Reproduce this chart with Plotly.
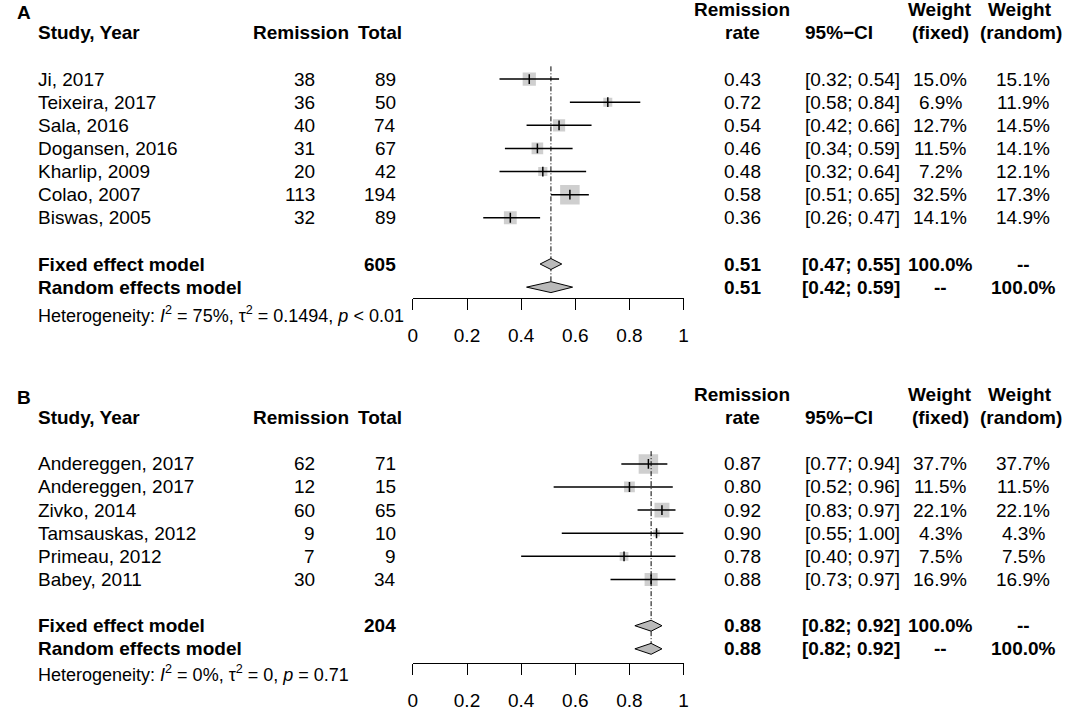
import math
import plotly.graph_objects as go

# ---- dados do painel A ----
estudos_a = ["Ji, 2017", "Teixeira, 2017", "Sala, 2016", "Dogansen, 2016",
             "Kharlip, 2009", "Colao, 2007", "Biswas, 2005"]
remissao_a = [38, 36, 40, 31, 20, 113, 32]
total_a = [89, 50, 74, 67, 42, 194, 89]
taxa_a = [0.43, 0.72, 0.54, 0.46, 0.48, 0.58, 0.36]
ic_inf_a = [0.32, 0.58, 0.42, 0.34, 0.32, 0.51, 0.26]
ic_sup_a = [0.54, 0.84, 0.66, 0.59, 0.64, 0.65, 0.47]
peso_fixo_a = [15.0, 6.9, 12.7, 11.5, 7.2, 32.5, 14.1]
peso_aleat_a = [15.1, 11.9, 14.5, 14.1, 12.1, 17.3, 14.9]
n_total_a = 605
fixo_a = [0.51, 0.47, 0.55]      # estimativa, inf, sup
aleat_a = [0.51, 0.42, 0.59]
het_a = "Heterogeneity: <i>I</i><sup>2</sup> = 75%, τ<sup>2</sup> = 0.1494, <i>p</i> &lt; 0.01"

# ---- dados do painel B ----
estudos_b = ["Andereggen, 2017", "Andereggen, 2017", "Zivko, 2014",
             "Tamsauskas, 2012", "Primeau, 2012", "Babey, 2011"]
remissao_b = [62, 12, 60, 9, 7, 30]
total_b = [71, 15, 65, 10, 9, 34]
taxa_b = [0.87, 0.80, 0.92, 0.90, 0.78, 0.88]
ic_inf_b = [0.77, 0.52, 0.83, 0.55, 0.40, 0.73]
ic_sup_b = [0.94, 0.96, 0.97, 1.00, 0.97, 0.97]
peso_fixo_b = [37.7, 11.5, 22.1, 4.3, 7.5, 16.9]
peso_aleat_b = [37.7, 11.5, 22.1, 4.3, 7.5, 16.9]
n_total_b = 204
fixo_b = [0.88, 0.82, 0.92]
aleat_b = [0.88, 0.82, 0.92]
het_b = "Heterogeneity: <i>I</i><sup>2</sup> = 0%, τ<sup>2</sup> = 0, <i>p</i> = 0.71"

ticks = [0, 0.2, 0.4, 0.6, 0.8, 1]
tick_txt = ["0", "0.2", "0.4", "0.6", "0.8", "1"]

# layout em pixels
W, H = 1071, 711
X0, X1 = 411.7, 685.0
PASSO = 23.25
FONTE = "Liberation Sans, Arial, sans-serif"
FS = 19
CINZA = "#bababa"

fig = go.Figure()


def texto(x, y, s, anchor="left", bold=False, size=FS):
    if bold:
        s = f"<b>{s}</b>"
    fig.add_annotation(x=x / W, y=y, xref="paper", yref="y", text=s,
                       showarrow=False, xanchor=anchor, yanchor="middle",
                       borderpad=0, borderwidth=0,
                       font=dict(family=FONTE, size=size, color="black"))


def painel(letra, topo, eixo, estudos, rem, tot, taxa, inf, sup, pf, pa,
           n_tot, fixo, aleat, het, y_eixo, dy_het):
    linha = lambda r: topo + PASSO * r
    k = len(estudos)
    ys = [linha(2 + i) for i in range(k)]
    y_fixo = linha(k + 3)
    y_aleat = linha(k + 4)
    y_het = y_aleat + dy_het

    # cabeçalhos
    texto(12, topo - 20, letra, bold=True)
    texto(33, linha(0), "Study, Year", bold=True)
    texto(299, linha(0), "Remission", anchor="center", bold=True)
    texto(379, linha(0), "Total", anchor="center", bold=True)
    texto(744, linha(-1), "Remission", anchor="center", bold=True)
    texto(744, linha(0), "rate", anchor="center", bold=True)
    texto(842, linha(0), "95%\u2212CI", anchor="center", bold=True)
    texto(944, linha(-1), "Weight", anchor="center", bold=True)
    texto(944, linha(0), "(fixed)", anchor="center", bold=True)
    texto(1025, linha(-1), "Weight", anchor="center", bold=True)
    texto(1026, linha(0), "(random)", anchor="center", bold=True)

    for i in range(k):
        texto(33, ys[i], estudos[i])
        texto(313, ys[i], str(rem[i]), anchor="right")
        texto(395, ys[i], str(tot[i]), anchor="right")
        texto(744, ys[i], f"{taxa[i]:.2f}", anchor="center")
        texto(903, ys[i], f"[{inf[i]:.2f}; {sup[i]:.2f}]", anchor="right")
        texto(944, ys[i], f"{pf[i]:.1f}%", anchor="center")
        texto(1028, ys[i], f"{pa[i]:.1f}%", anchor="center")

    texto(33, y_fixo, "Fixed effect model", bold=True)
    texto(395, y_fixo, str(n_tot), anchor="right", bold=True)
    texto(744, y_fixo, f"{fixo[0]:.2f}", anchor="center", bold=True)
    texto(903, y_fixo, f"[{fixo[1]:.2f}; {fixo[2]:.2f}]", anchor="right", bold=True)
    texto(944, y_fixo, "100.0%", anchor="center", bold=True)
    texto(1028, y_fixo, "--", anchor="center", bold=True)

    texto(33, y_aleat, "Random effects model", bold=True)
    texto(744, y_aleat, f"{aleat[0]:.2f}", anchor="center", bold=True)
    texto(903, y_aleat, f"[{aleat[1]:.2f}; {aleat[2]:.2f}]", anchor="right", bold=True)
    texto(944, y_aleat, "--", anchor="center", bold=True)
    texto(1028, y_aleat, "100.0%", anchor="center", bold=True)

    texto(33, y_het, het, size=18)

    # quadrados proporcionais ao peso (fixo)
    pmax = max(pf)
    fig.add_trace(go.Scatter(
        x=taxa, y=ys, mode="markers", xaxis=eixo, yaxis="y",
        marker=dict(symbol="square", color=CINZA,
                    size=[19.5 * math.sqrt(p / pmax) for p in pf],
                    line=dict(width=0)),
        hoverinfo="skip", showlegend=False))

    # linha tracejada na estimativa do efeito fixo
    fig.add_trace(go.Scatter(
        x=[fixo[0], fixo[0]], y=[linha(1.45), y_aleat], mode="lines",
        xaxis=eixo, yaxis="y",
        line=dict(color="black", width=1, dash="5px,2px,1px,2px"),
        hoverinfo="skip", showlegend=False))

    # intervalos de confiança
    xs, yy = [], []
    for i in range(k):
        xs += [inf[i], sup[i], None]
        yy += [ys[i], ys[i], None]
    fig.add_trace(go.Scatter(
        x=xs, y=yy, mode="lines", xaxis=eixo, yaxis="y",
        line=dict(color="black", width=1.5),
        hoverinfo="skip", showlegend=False))

    # marca da estimativa
    fig.add_trace(go.Scatter(
        x=taxa, y=ys, mode="markers", xaxis=eixo, yaxis="y",
        marker=dict(symbol="line-ns", size=7,
                    line=dict(color="black", width=1.5)),
        hoverinfo="skip", showlegend=False))

    # diamantes
    for est, yd in ((fixo, y_fixo), (aleat, y_aleat)):
        fig.add_trace(go.Scatter(
            x=[est[1], est[0], est[2], est[0], est[1]],
            y=[yd, yd - 5.5, yd, yd + 5.5, yd],
            mode="lines", fill="toself", fillcolor=CINZA,
            xaxis=eixo, yaxis="y",
            line=dict(color="black", width=1),
            hoverinfo="skip", showlegend=False))

    return dict(domain=[X0 / W, X1 / W], range=[0, 1], anchor="free",
                position=1 - y_eixo / H, showline=True, linecolor="black",
                linewidth=1, ticks="outside", ticklen=11, tickwidth=1,
                tickcolor="black", tickvals=ticks, ticktext=tick_txt,
                ticklabelstandoff=9, showgrid=False, zeroline=False,
                tickfont=dict(family=FONTE, size=FS, color="black"))


eixo_a = painel("A", 33, "x", estudos_a, remissao_a, total_a, taxa_a,
                ic_inf_a, ic_sup_a, peso_fixo_a, peso_aleat_a, n_total_a,
                fixo_a, aleat_a, het_a, 300, 28)
eixo_b = painel("B", 420, "x2", estudos_b, remissao_b, total_b, taxa_b,
                ic_inf_b, ic_sup_b, peso_fixo_b, peso_aleat_b, n_total_b,
                fixo_b, aleat_b, het_b, 667, 25)

fig.update_layout(
    width=W, height=H,
    margin=dict(l=0, r=0, t=0, b=0),
    paper_bgcolor="white", plot_bgcolor="rgba(0,0,0,0)",
    font=dict(family=FONTE, size=FS, color="black"),
    xaxis=eixo_a, xaxis2=eixo_b,
    yaxis=dict(domain=[0, 1], range=[H, 0], visible=False, fixedrange=True),
    showlegend=False,
)

fig.write_html("out.html", config={"displayModeBar": False},
               post_script="document.body.style.margin = '0';")
